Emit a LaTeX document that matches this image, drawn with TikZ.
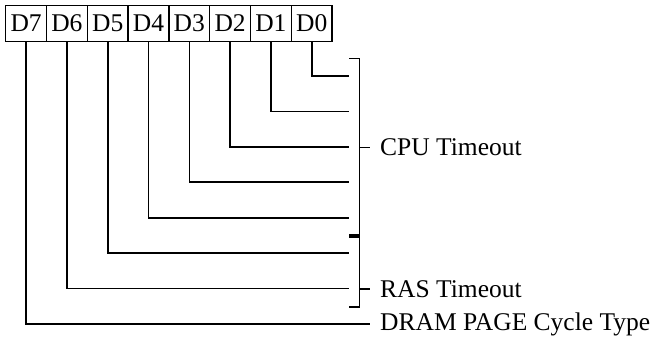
\documentclass[tikz,border=0pt]{standalone}
\usepackage{fontspec}
\setmainfont{Liberation Serif}
\usetikzlibrary{positioning}
\tikzset{>=stealth}
\tikzset{
  bitbox/.style={draw, line width=1.3pt, outer sep=0pt, inner sep=0pt,
    minimum width=40.8pt, minimum height=36pt, font=\fontsize{25.5}{29}\selectfont},
  wire/.style={line width=1.6pt},
  lbl/.style={anchor=west, inner sep=0pt, font=\fontsize{25.5}{29}\selectfont}
}

\begin{document}
\begin{tikzpicture}[x=1pt, y=-1pt]
  \useasboundingbox (0,0) rectangle (654,341);
  % register bits
  \node[bitbox] (d7) at (26.1,23.2) {D7};
  \foreach \i [evaluate=\i as \prev using int(\i+1)] in {6,...,0}
    \node[bitbox, right=0pt of d\prev] (d\i) {D\i};
  % wire ends
  \foreach \i in {0,...,6}
    \coordinate (e\i) at (349.3,{76+35.43*\i});
  \coordinate (e7) at (370,324);
  \foreach \i in {0,...,7}
    \draw[wire] (d\i.south) |- (e\i);
  % brackets
  \draw[wire] (349.3,58.3) -| (359.3,235) -- (349.3,235);
  \draw[wire] (349.3,237) -| (359.3,306.7) -- (349.3,306.7);
  \node[lbl] (cpu) at (380,147.5) {CPU Timeout};
  \node[lbl] (ras) at (380,288.8) {RAS Timeout};
  \node[lbl] (dram) at (380,324) {DRAM PAGE Cycle Type};
  \draw[wire] (359.3,147.5) -- ([xshift=-10pt]cpu.west);
  \draw[wire] (359.3,288.8) -- ([xshift=-10pt]ras.west);
\end{tikzpicture}
\end{document}
